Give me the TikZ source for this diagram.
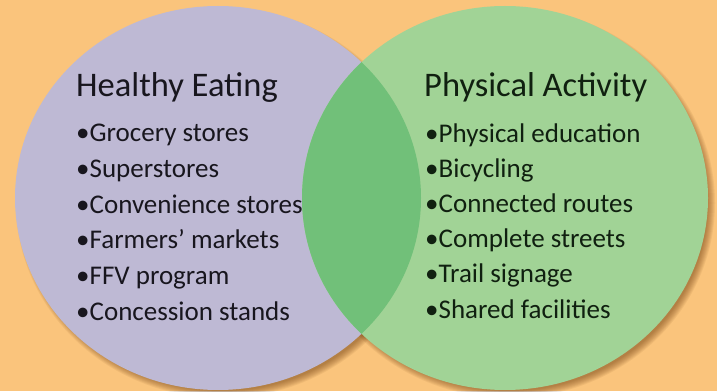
\documentclass[tikz,border=0pt]{standalone}
\usepackage{fontspec}
\setmainfont{Carlito}
\definecolor{bgorange}{RGB}{250,196,124}
\definecolor{lavender}{RGB}{190,185,212}
\definecolor{lightgreen}{RGB}{161,211,150}
\definecolor{lensgreen}{RGB}{113,192,121}
\definecolor{shadowbrown}{RGB}{110,60,15}
\definecolor{inkleft}{RGB}{24,22,30}
\definecolor{inkright}{RGB}{16,32,16}
\begin{document}
\begin{tikzpicture}[x=1pt,y=1pt,
  heading/.style={anchor=base west, inner sep=0pt, font=\fontsize{34.5}{40}\selectfont},
  item/.style={anchor=base west, inner sep=0pt, font=\fontsize{27}{30}\selectfont},
  shadowring/.style={fill=shadowbrown, opacity=0.08}]
  % page background
  \fill[bgorange] (0,0) rectangle (717,391);
  \useasboundingbox (0,0) rectangle (717,391);
  % soft drop shadows under both circles
  \foreach \k in {0,...,7} {
    \fill[shadowring] (222,188) ellipse ({206-\k} and {195-\k});
    \fill[shadowring] (509,188) ellipse ({206-\k} and {195-\k});
  }
  % the two sets
  \fill[lavender] (218,193) ellipse (203 and 192);
  \fill[lightgreen] (505,193) ellipse (203 and 192);
  % overlap
  \begin{scope}
    \clip (218,193) ellipse (203 and 192);
    \fill[lensgreen] (505,193) ellipse (203 and 192);
  \end{scope}
  % left set
  \node[heading, text=inkleft] (eat) at (76,294) {Healthy Eating};
  \foreach \t [count=\i] in {Grocery stores, Superstores, Convenience stores,
      Farmers’ markets, FFV program, Concession stands}
    \node[item, text=inkleft] (eat\i) at (76,{249-35.6*(\i-1)}) {•\t};
  % right set
  \node[heading, text=inkright] (act) at (424,294) {Physical Activity};
  \foreach \t [count=\i] in {Physical education, Bicycling, Connected routes,
      Complete streets, Trail signage, Shared facilities}
    \node[item, text=inkright] (act\i) at (425,{248-35*(\i-1)}) {•\t};
\end{tikzpicture}
\end{document}
